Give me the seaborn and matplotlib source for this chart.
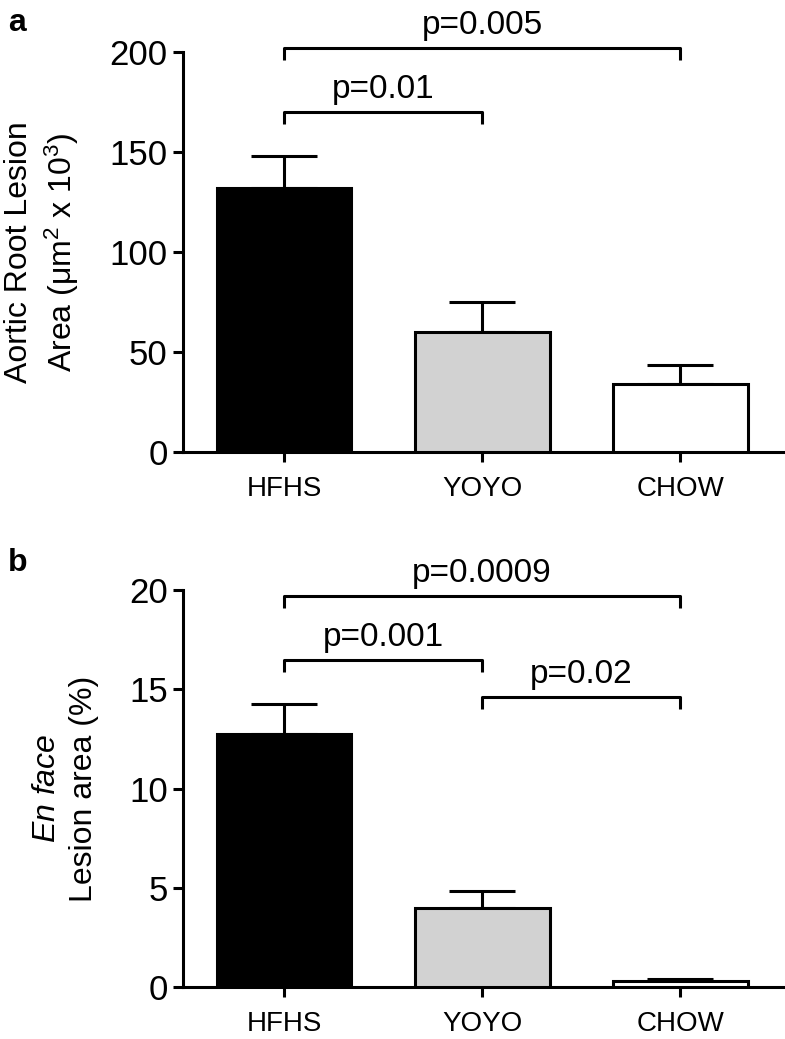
import numpy as np
import pandas as pd
import matplotlib
matplotlib.use("Agg")
import matplotlib.pyplot as plt
import seaborn as sns

# 데이터
groups = ["HFHS", "YOYO", "CHOW"]
bar_colors = ["#000000", "#d2d2d2", "#ffffff"]

root_mean = [132, 60, 34]
root_sem = [16, 15, 9.5]
root_pvals = [(0, 2, 202, "p=0.005"), (0, 1, 170, "p=0.01")]

enface_mean = [12.75, 4.0, 0.3]
enface_sem = [1.5, 0.85, 0.12]
enface_pvals = [(0, 2, 19.7, "p=0.0009"), (0, 1, 16.5, "p=0.001"), (1, 2, 14.6, "p=0.02")]

sns.set_style("ticks", {"axes.edgecolor": "black", "text.color": "black",
                        "xtick.color": "black", "ytick.color": "black",
                        "axes.labelcolor": "black"})
plt.rcParams["font.family"] = ["Liberation Sans", "DejaVu Sans"]
plt.rcParams["mathtext.fontset"] = "custom"
plt.rcParams["mathtext.rm"] = "Liberation Sans"
plt.rcParams["mathtext.it"] = "Liberation Sans:italic"

LW = 2.2

fig = plt.figure(figsize=(7.85, 10.39), dpi=100)
ax_a = fig.add_axes([0.233, 0.565, 0.765, 0.385])
ax_b = fig.add_axes([0.233, 0.050, 0.765, 0.382])


def draw_panel(ax, means, sems, pvals, ymax, step, ylabel, label_x, leg):
    df = pd.DataFrame({"group": groups, "value": means})
    sns.barplot(data=df, x="group", y="value", hue="group", palette=bar_colors,
                legend=False, width=0.68, edgecolor="black", linewidth=LW,
                errorbar=None, ax=ax, zorder=3)
    # 위쪽 방향 오차막대만
    ax.errorbar(np.arange(len(groups)), means, yerr=[np.zeros(len(sems)), sems],
                fmt="none", ecolor="black", elinewidth=LW, capsize=24,
                capthick=LW, zorder=2)
    ax.set_xlim(-0.51, 2.52)
    ax.set_ylim(0, ymax)
    ax.set_yticks(np.arange(0, ymax + step, step))
    ax.set_xlabel("")
    ax.set_ylabel(ylabel, fontsize=23, linespacing=1.3)
    ax.yaxis.set_label_coords(label_x, 0.5)
    for s in ["top", "right"]:
        ax.spines[s].set_visible(False)
    for s in ["left", "bottom"]:
        ax.spines[s].set_linewidth(LW)
    ax.tick_params(axis="y", labelsize=25, width=LW, length=7, pad=4)
    ax.tick_params(axis="x", labelsize=20, width=LW, length=7, pad=10)

    # 유의성 표시 괄호
    for i, j, y, txt in pvals:
        ax.plot([i, i, j, j], [y - leg, y, y, y - leg], color="black", lw=LW,
                clip_on=False, solid_capstyle="butt")
        ax.annotate(txt, xy=((i + j) / 2, y), xytext=(0, 5),
                    textcoords="offset points", ha="center", va="bottom",
                    fontsize=24, annotation_clip=False)


draw_panel(ax_a, root_mean, root_sem, root_pvals, 200, 50,
           "Aortic Root Lesion\nArea ($\\mathrm{\\mu m^2}$ x 10$^3$)", -0.17, 6)
draw_panel(ax_b, enface_mean, enface_sem, enface_pvals, 20, 5,
           "$\\mathit{En\\ face}$\nLesion area (%)", -0.14, 0.6)

fig.text(0.01, 0.978, "a", fontsize=23, fontweight="bold", va="center")
fig.text(0.01, 0.458, "b", fontsize=23, fontweight="bold", va="center")

fig.savefig("out.png", dpi=100)
